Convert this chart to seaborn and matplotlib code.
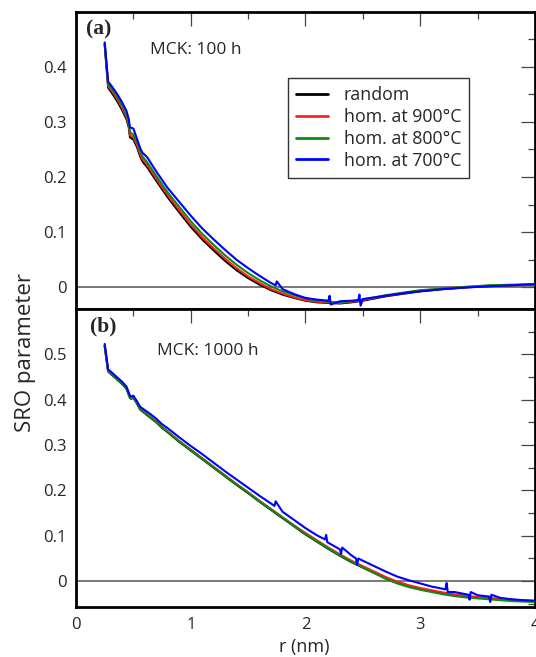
import numpy as np
import pandas as pd
import matplotlib
matplotlib.use("Agg")
import matplotlib.pyplot as plt
import seaborn as sns
from matplotlib.ticker import MultipleLocator, FixedLocator, FuncFormatter

# ---------------- data ----------------
labels = ["random", "hom. at 900°C", "hom. at 800°C", "hom. at 700°C"]
colors = ["#000000", "#ff2020", "#108a10", "#0000ff"]

# panel (a): MCK 100 h
r_a = [0.25, 0.28, 0.32, 0.36, 0.40, 0.44, 0.46, 0.47, 0.50, 0.53, 0.56, 0.58, 0.62, 0.70,
       0.80, 0.90, 1.0, 1.1, 1.2, 1.3, 1.4, 1.5, 1.6, 1.7, 1.8, 1.9, 2.0, 2.1, 2.2, 2.3,
       2.4, 2.5, 2.6, 2.7, 2.8, 2.9, 3.0, 3.2, 3.4, 3.6, 3.8, 4.0]
a_random = [0.440, 0.362, 0.350, 0.337, 0.322, 0.305, 0.290, 0.272, 0.268, 0.255, 0.237, 0.228,
            0.218, 0.193, 0.163, 0.136, 0.110, 0.087, 0.067, 0.048, 0.031, 0.017, 0.005, -0.005,
            -0.013, -0.019, -0.024, -0.027, -0.028, -0.029, -0.027, -0.024, -0.020, -0.016,
            -0.013, -0.010, -0.007, -0.003, 0.000, 0.003, 0.004, 0.005]
a_900 = [0.441, 0.365, 0.354, 0.341, 0.326, 0.309, 0.294, 0.276, 0.272, 0.259, 0.241, 0.232,
         0.222, 0.197, 0.167, 0.140, 0.114, 0.091, 0.071, 0.052, 0.035, 0.020, 0.008, -0.003,
         -0.011, -0.018, -0.023, -0.026, -0.027, -0.028, -0.026, -0.023, -0.019, -0.015,
         -0.012, -0.009, -0.006, -0.002, 0.001, 0.003, 0.004, 0.005]
a_800 = [0.442, 0.368, 0.358, 0.345, 0.330, 0.313, 0.298, 0.281, 0.277, 0.264, 0.246, 0.237,
         0.227, 0.202, 0.172, 0.146, 0.120, 0.097, 0.077, 0.058, 0.041, 0.026, 0.013, 0.002,
         -0.007, -0.014, -0.020, -0.024, -0.026, -0.027, -0.025, -0.022, -0.018, -0.014,
         -0.011, -0.008, -0.005, -0.002, 0.001, 0.004, 0.005, 0.006]
r_a_700 = [0.25, 0.28, 0.32, 0.36, 0.40, 0.44, 0.46, 0.47, 0.50, 0.53, 0.56, 0.58, 0.62, 0.70,
           0.80, 0.90, 1.0, 1.1, 1.2, 1.3, 1.4, 1.5, 1.6, 1.7, 1.74, 1.75, 1.8, 1.9, 2.0, 2.1,
           2.2, 2.21, 2.22, 2.3, 2.4, 2.46, 2.47, 2.48, 2.5, 2.6, 2.7, 2.8, 2.9, 3.0, 3.2,
           3.4, 3.6, 3.8, 4.0]
a_700 = [0.444, 0.373, 0.362, 0.350, 0.336, 0.320, 0.305, 0.290, 0.288, 0.270, 0.252, 0.244,
         0.236, 0.210, 0.180, 0.155, 0.130, 0.107, 0.087, 0.068, 0.050, 0.035, 0.021, 0.008,
         0.004, 0.011, -0.003, -0.012, -0.019, -0.022, -0.024, -0.015, -0.031, -0.025,
         -0.024, -0.023, -0.013, -0.033, -0.021, -0.018, -0.015, -0.012, -0.009, -0.007,
         -0.003, 0.000, 0.002, 0.004, 0.006]

# panel (b): MCK 1000 h
r_b = [0.25, 0.28, 0.32, 0.36, 0.40, 0.44, 0.47, 0.48, 0.50, 0.53, 0.56, 0.60, 0.65, 0.70,
       0.75, 0.80, 0.9, 1.0, 1.1, 1.2, 1.3, 1.4, 1.5, 1.6, 1.7, 1.8, 1.9, 2.0, 2.1, 2.2,
       2.3, 2.4, 2.5, 2.6, 2.7, 2.8, 2.9, 3.0, 3.1, 3.2, 3.3, 3.4, 3.5, 3.6, 3.7, 3.8, 3.9, 4.0]
b_random = [0.518, 0.462, 0.453, 0.444, 0.435, 0.424, 0.404, 0.402, 0.404, 0.392, 0.378, 0.370,
            0.360, 0.350, 0.338, 0.328, 0.307, 0.288, 0.269, 0.250, 0.231, 0.212, 0.194, 0.175,
            0.157, 0.139, 0.121, 0.103, 0.087, 0.071, 0.056, 0.042, 0.030, 0.018, 0.006,
            -0.004, -0.011, -0.017, -0.022, -0.027, -0.031, -0.034, -0.036, -0.038, -0.040,
            -0.042, -0.043, -0.044]
b_900 = [0.519, 0.463, 0.455, 0.446, 0.437, 0.426, 0.406, 0.404, 0.406, 0.394, 0.380, 0.372,
         0.362, 0.352, 0.340, 0.330, 0.309, 0.290, 0.271, 0.252, 0.233, 0.214, 0.196, 0.177,
         0.159, 0.141, 0.123, 0.106, 0.090, 0.074, 0.059, 0.045, 0.033, 0.021, 0.009,
         -0.001, -0.009, -0.015, -0.020, -0.025, -0.029, -0.032, -0.035, -0.037, -0.039,
         -0.041, -0.043, -0.044]
b_800 = [0.519, 0.463, 0.454, 0.445, 0.436, 0.425, 0.405, 0.403, 0.405, 0.393, 0.379, 0.371,
         0.361, 0.351, 0.339, 0.329, 0.308, 0.289, 0.270, 0.251, 0.232, 0.213, 0.195, 0.176,
         0.158, 0.140, 0.122, 0.104, 0.088, 0.072, 0.057, 0.043, 0.030, 0.018, 0.005,
         -0.005, -0.013, -0.019, -0.024, -0.029, -0.033, -0.036, -0.038, -0.040, -0.042,
         -0.044, -0.045, -0.046]
r_b_700 = [0.25, 0.28, 0.32, 0.36, 0.40, 0.44, 0.47, 0.48, 0.50, 0.53, 0.56, 0.60, 0.65, 0.70,
           0.75, 0.80, 0.9, 1.0, 1.1, 1.2, 1.3, 1.4, 1.5, 1.6, 1.7, 1.73, 1.74, 1.8, 1.9, 2.0,
           2.1, 2.17, 2.18, 2.19, 2.3, 2.31, 2.32, 2.4, 2.44, 2.45, 2.46, 2.5, 2.6, 2.7, 2.8,
           2.9, 3.0, 3.1, 3.22, 3.23, 3.24, 3.3, 3.42, 3.43, 3.44, 3.5, 3.6, 3.61, 3.62, 3.7,
           3.8, 3.9, 4.0]
b_700 = [0.523, 0.467, 0.458, 0.449, 0.440, 0.429, 0.409, 0.407, 0.409, 0.397, 0.384, 0.377,
         0.368, 0.358, 0.346, 0.337, 0.317, 0.298, 0.280, 0.261, 0.242, 0.224, 0.206, 0.188,
         0.171, 0.166, 0.176, 0.153, 0.135, 0.117, 0.101, 0.092, 0.102, 0.086, 0.070, 0.060,
         0.074, 0.057, 0.050, 0.036, 0.050, 0.045, 0.033, 0.021, 0.010, 0.002, -0.005,
         -0.012, -0.018, -0.004, -0.024, -0.024, -0.030, -0.041, -0.024, -0.031, -0.034,
         -0.046, -0.030, -0.037, -0.040, -0.042, -0.043]

# ---------------- figure ----------------
sns.set_style("white")
plt.rcParams["font.family"] = ["Open Sans", "DejaVu Sans"]

fig = plt.figure(figsize=(5.36, 6.57), dpi=100)
axA = fig.add_axes([0.1418, 0.5297, 0.8563, 0.4520])
axB = fig.add_axes([0.1418, 0.0761, 0.8563, 0.4536])


def make_df(rs, vals):
    frames = []
    for lab, r, v in zip(labels, rs, vals):
        frames.append(pd.DataFrame({"r": r, "sro": v, "series": lab}))
    return pd.concat(frames, ignore_index=True)


dfA = make_df([r_a, r_a, r_a, r_a_700], [a_random, a_900, a_800, a_700])
dfB = make_df([r_b, r_b, r_b, r_b_700], [b_random, b_900, b_800, b_700])

for ax, df in [(axA, dfA), (axB, dfB)]:
    ax.axhline(0, color="#555555", lw=1.1, zorder=1)
    sns.lineplot(data=df, x="r", y="sro", hue="series", hue_order=labels,
                 palette=colors, estimator=None, sort=False, lw=1.5, ax=ax,
                 legend=(ax is axA), zorder=3)
    ax.set_xlim(0, 4)
    ax.xaxis.set_major_locator(MultipleLocator(1))
    ax.xaxis.set_minor_locator(MultipleLocator(0.5))
    ax.set_xlabel("")
    ax.set_ylabel("")
    for s in ax.spines.values():
        s.set_linewidth(2.0)
        s.set_color("black")
    ax.tick_params(which="both", direction="in", top=True, right=True,
                   color="#444444", width=0.9, labelsize=12, pad=7)
    ax.tick_params(which="major", length=10)
    ax.tick_params(which="minor", length=5)
    ax.yaxis.set_major_formatter(FuncFormatter(lambda v, p: "%g" % round(v, 2)))

axA.set_ylim(-0.039, 0.499)
axA.yaxis.set_major_locator(FixedLocator([0, 0.1, 0.2, 0.3, 0.4]))
axA.yaxis.set_minor_locator(FixedLocator([0.05, 0.15, 0.25, 0.35, 0.45]))
axA.tick_params(labelbottom=False)

axB.set_ylim(-0.057, 0.600)
axB.yaxis.set_major_locator(FixedLocator([0, 0.1, 0.2, 0.3, 0.4, 0.5]))
axB.yaxis.set_minor_locator(FixedLocator([-0.05, 0.05, 0.15, 0.25, 0.35, 0.45, 0.55]))
axB.xaxis.set_major_formatter(FuncFormatter(lambda v, p: "%g" % v))

# legend
leg = axA.legend(loc="upper left", bbox_to_anchor=(0.461, 0.778), borderaxespad=0,
                 fontsize=12.8, frameon=True, fancybox=False, edgecolor="black",
                 handlelength=1.8, handletextpad=0.9, labelspacing=0.22,
                 borderpad=0.45)
leg.get_frame().set_linewidth(1.0)
for h in leg.get_lines():
    h.set_linewidth(2.0)

# annotations
axA.text(0.022, 0.94, "(a)", transform=axA.transAxes, fontsize=15.5, fontweight="bold",
         family="Liberation Serif", va="center", ha="left")
axA.text(0.161, 0.872, "MCK: 100 h", transform=axA.transAxes, fontsize=12.5,
         va="center", ha="left")
axB.text(0.030, 0.94, "(b)", transform=axB.transAxes, fontsize=15.5, fontweight="bold",
         family="Liberation Serif", va="center", ha="left")
axB.text(0.176, 0.859, "MCK: 1000 h", transform=axB.transAxes, fontsize=12.5,
         va="center", ha="left")

fig.text(0.048, 0.463, "SRO parameter", rotation=90, fontsize=16, va="center", ha="center")
fig.text(0.567, 0.015, "r (nm)", fontsize=13, va="center", ha="center")

fig.savefig("out.png", dpi=100)
